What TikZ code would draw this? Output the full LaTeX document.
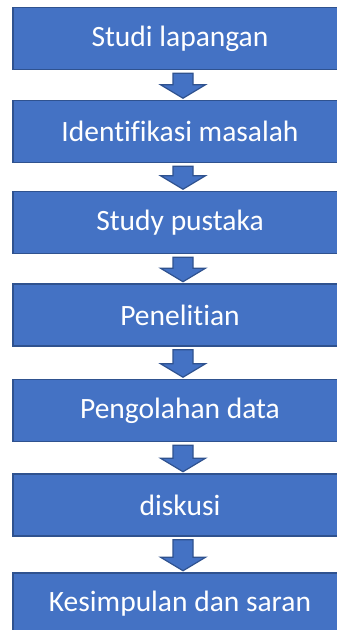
\documentclass[tikz,border=0pt]{standalone}
\usepackage{fontspec}
\setmainfont[Ligatures=CommonOff]{Carlito}
\usetikzlibrary{calc}
\definecolor{boxfill}{HTML}{4472C4}
\definecolor{boxline}{HTML}{2F528F}
\tikzset{
  flowbox/.style={draw=boxline, fill=boxfill, line width=1.5pt, text=white,
    minimum width=334pt, minimum height=62pt, inner sep=0pt,
    font=\fontsize{29.5}{33}\selectfont},
  blockarrow/.style={draw=boxline, fill=boxfill, line width=1.2pt, line join=miter}
}
\newcommand\blkarrow[2]{%
  \draw[blockarrow] let \p1=(#1.south), \p2=(#2.north) in
    (173pt,\y1-3pt) -- (193pt,\y1-3pt) -- (193pt,\y2+15pt) -- (205.5pt,\y2+15pt)
    -- (183pt,\y2+1.5pt) -- (160.5pt,\y2+15pt) -- (173pt,\y2+15pt) -- cycle;}
\begin{document}
\begin{tikzpicture}[x=1pt,y=1pt]
\useasboundingbox (0,0) rectangle (337,630);
\clip (0,0) rectangle (337,630);
\node[flowbox] (b1) at (180,591.5) {Studi lapangan};
\node[flowbox] (b2) at (180,498.5) {Identifikasi masalah};
\node[flowbox] (b3) at (180,407.5) {Study pustaka};
\node[flowbox] (b4) at (180,315) {Penelitian};
\node[flowbox] (b5) at (180,219.5) {Pengolahan data};
\node[flowbox] (b6) at (180,125) {diskusi};
\node[flowbox] (b7) at (180,26) {Kesimpulan dan saran};
\blkarrow{b1}{b2}
\blkarrow{b2}{b3}
\blkarrow{b3}{b4}
\blkarrow{b4}{b5}
\blkarrow{b5}{b6}
\blkarrow{b6}{b7}
\end{tikzpicture}
\end{document}
